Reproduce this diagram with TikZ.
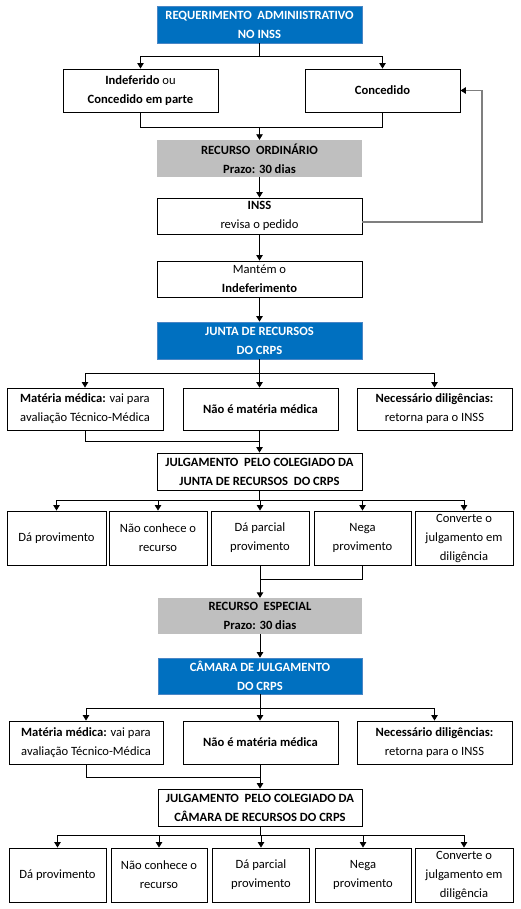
\documentclass[tikz,border=0pt]{standalone}
\usepackage{fontspec}
\setmainfont{Carlito}
\usetikzlibrary{arrows.meta}
\definecolor{bluebox}{HTML}{0070C0}
\definecolor{bluedge}{HTML}{4A86C5}
\definecolor{graybox}{HTML}{BFBFBF}
\definecolor{fbline}{HTML}{7F7F7F}
\tikzset{
  base/.style={rectangle, inner sep=0pt, align=center, font=\fontsize{12.6}{19}\selectfont},
  box/.style={base, draw=black, line width=0.9pt, fill=white},
  bluenode/.style={base, fill=bluebox, draw=bluedge, line width=0.8pt, text=white, font=\fontsize{12.6}{19}\selectfont\bfseries},
  graynode/.style={base, fill=graybox, font=\fontsize{12.6}{19}\selectfont\bfseries},
  conn/.style={line width=0.9pt, draw=black},
  arr/.style={conn, -{Triangle[width=6.5pt,length=5.5pt]}},
}
\begin{document}
\begin{tikzpicture}[x=1pt,y=-1pt]
\useasboundingbox[fill=white] (0,0) rectangle (520,909);
% top
\node[bluenode, minimum width=205, minimum height=37] (req) at (259.5,24.5) {REQUERIMENTO\ \ ADMINIISTRATIVO\\NO INSS};
\node[box, minimum width=155, minimum height=43] (indef) at (140.5,90.5) {\textbf{Indeferido} ou\\\textbf{Concedido em parte}};
\node[box, minimum width=155, minimum height=43] (conc) at (382.5,90.5) {\textbf{Concedido}};
\node[graynode, minimum width=205, minimum height=37] (ro) at (259.5,158.5) {RECURSO\ \ ORDINÁRIO\\Prazo: 30 dias};
\node[box, minimum width=205, minimum height=36] (inss) at (259.5,216) {\textbf{INSS}\\revisa o pedido};
\node[box, minimum width=205, minimum height=36] (mant) at (259.5,279) {Mantém o\\\textbf{Indeferimento}};
\node[bluenode, minimum width=205, minimum height=37] (junta) at (259.5,340.5) {JUNTA DE RECURSOS\\DO CRPS};
% junta branches
\node[box, minimum width=156, minimum height=42] (mat1) at (85,409) {\textbf{Matéria médica:} vai para\\avaliação Técnico-Médica};
\node[box, minimum width=155, minimum height=42] (nao1) at (260.5,409) {\textbf{Não é matéria médica}};
\node[box, minimum width=155, minimum height=42] (nec1) at (434.5,409) {\textbf{Necessário diligências:}\\retorna para o INSS};
\node[box, minimum width=205, minimum height=37] (julg1) at (259.5,471.5) {\textbf{JULGAMENTO\ \ PELO COLEGIADO DA}\\\textbf{JUNTA DE RECURSOS\ \ DO CRPS}};
% five 1
\node[box, minimum width=99, minimum height=54] (f11) at (56.5,538) {Dá provimento};
\node[box, minimum width=98, minimum height=54] (f12) at (158,538) {Não conhece o\\recurso};
\node[box, minimum width=98, minimum height=54] (f13) at (260,538) {Dá parcial\\provimento};
\node[box, minimum width=97, minimum height=54] (f14) at (362.5,538) {Nega\\provimento};
\node[box, minimum width=98, minimum height=54] (f15) at (464,538) {Converte o\\julgamento em\\diligência};
% especial
\node[graynode, minimum width=204, minimum height=36] (re) at (260,616) {RECURSO\ \ ESPECIAL\\Prazo: 30 dias};
\node[bluenode, minimum width=204, minimum height=36] (cam) at (260,676) {CÂMARA DE JULGAMENTO\\DO CRPS};
\node[box, minimum width=154, minimum height=43] (mat2) at (86,742.5) {\textbf{Matéria médica:} vai para\\avaliação Técnico-Médica};
\node[box, minimum width=155, minimum height=43] (nao2) at (260.5,742.5) {\textbf{Não é matéria médica}};
\node[box, minimum width=155, minimum height=43] (nec2) at (434.5,742.5) {\textbf{Necessário diligências:}\\retorna para o INSS};
\node[box, minimum width=204, minimum height=37] (julg2) at (260,807.5) {\textbf{JULGAMENTO\ \ PELO COLEGIADO DA}\\\textbf{CÂMARA DE RECURSOS DO CRPS}};
% five 2
\node[box, minimum width=97, minimum height=54] (f21) at (57.5,875) {Dá provimento};
\node[box, minimum width=96, minimum height=54] (f22) at (159,875) {Não conhece o\\recurso};
\node[box, minimum width=97, minimum height=54] (f23) at (261,875) {Dá parcial\\provimento};
\node[box, minimum width=96, minimum height=54] (f24) at (363,875) {Nega\\provimento};
\node[box, minimum width=98, minimum height=54] (f25) at (464,875) {Converte o\\julgamento em\\diligência};
% coordinates
\coordinate (b1) at (259.5,56);
\coordinate (m1) at (259.5,127);
\coordinate (fb) at (482,222);
\coordinate (b2) at (259.5,373);
\coordinate (m2) at (259.5,441);
\coordinate (b3) at (259.5,500);
\coordinate (m3) at (260,579);
\coordinate (b4) at (260,708);
\coordinate (m4) at (260,777);
\coordinate (b5) at (260,835);
% connectors
\draw[conn] (req.south) -- (b1);
\draw[arr] (b1) -| (indef.north);
\draw[arr] (b1) -| (conc.north);
\draw[conn] (indef.south) |- (m1);
\draw[conn] (conc.south) |- (m1);
\draw[arr] (m1) -- (ro.north);
\draw[arr] (ro) -- (inss);
\draw[draw=fbline, line width=1.3pt, -{Triangle[width=6.5pt,length=5.5pt,color=black]}] (inss.east |- fb) -- (fb) |- (conc.east);
\draw[arr] (inss) -- (mant);
\draw[arr] (mant) -- (junta);
\draw[conn] (junta.south) -- (b2);
\draw[arr] (b2) -| (mat1.north);
\draw[arr] (b2) -- (b2 |- nao1.north);
\draw[arr] (b2) -| (nec1.north);
\draw[conn] (mat1.south) |- (m2);
\draw[conn] (nao1.south -| m2) -- (m2);
\draw[arr] (m2) -- (julg1.north);
\draw[conn] (julg1.south) -- (b3);
\draw[arr] (b3) -| (f11.north);
\draw[arr] (b3) -| (f12.north);
\draw[arr] (b3) -| (f13.north);
\draw[arr] (b3) -| (f14.north);
\draw[arr] (b3) -| (f15.north);
\draw[conn] (f13.south) |- (m3);
\draw[conn] (f14.south) |- (m3);
\draw[arr] (m3) -- (re.north);
\draw[arr] (re) -- (cam);
\draw[conn] (cam.south) -- (b4);
\draw[arr] (b4) -| (mat2.north);
\draw[arr] (b4) -- (b4 |- nao2.north);
\draw[arr] (b4) -| (nec2.north);
\draw[conn] (mat2.south) |- (m4);
\draw[conn] (nao2.south -| m4) -- (m4);
\draw[arr] (m4) -- (julg2.north);
\draw[conn] (julg2.south) -- (b5);
\draw[arr] (b5) -| (f21.north);
\draw[arr] (b5) -| (f22.north);
\draw[arr] (b5) -| (f23.north);
\draw[arr] (b5) -| (f24.north);
\draw[arr] (b5) -| (f25.north);
\end{tikzpicture}
\end{document}
